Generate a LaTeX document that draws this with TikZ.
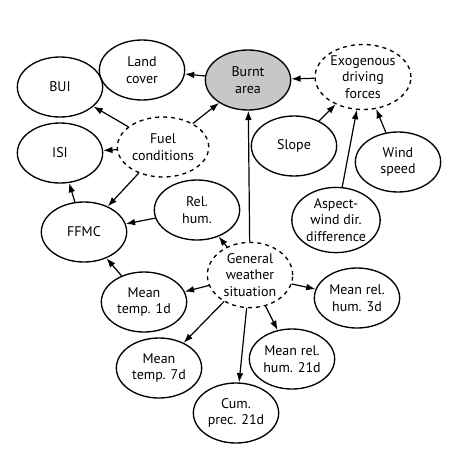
\documentclass[tikz,border=0pt]{standalone}
\usepackage{fontspec}
\setmainfont{PT Sans}
\usepackage{tikz}
\usetikzlibrary{shapes.geometric,arrows.meta}

\tikzset{
  var/.style={ellipse, draw, line width=1pt, align=center, inner sep=1pt,
    minimum width=64pt, minimum height=45pt,
    font=\fontsize{10.5}{12.5}\selectfont},
  latent/.style={var, dashed},
  target/.style={var, fill=black!22},
  link/.style={-{Latex[length=7pt,width=5pt]}, line width=0.9pt}
}

\begin{document}
\begin{tikzpicture}[x=0.75pt,y=-0.75pt]

        \useasboundingbox (0,0) rectangle (470,450);

        \node[target] (burnt) at (248,80)  {Burnt\\area};
        \node[var]    (land)  at (142,70)  {Land\\cover};
        \node[var]    (bui)   at (60,87)   {BUI};
        \node[var]    (isi)   at (60,153)  {ISI};
        \node[var]    (ffmc)  at (84,232)  {FFMC};
        \node[var]    (relh)  at (197,210) {Rel.\\hum.};
        \node[latent] (fuel)  at (163,147) {Fuel\\conditions};
        \node[latent] (exo)   at (363,77)  {Exogenous\\driving\\forces};
        \node[var]    (slope) at (294,146) {Slope};
        \node[var]    (wind)  at (398,162) {Wind\\speed};
        \node[var]    (asp)   at (336,220) {Aspect-\\wind dir.\\difference};
        \node[latent] (gen)   at (250,275) {General\\weather\\situation};
        \node[var]    (mt1)   at (144,302) {Mean\\temp. 1d};
        \node[var]    (mrh3)  at (357,298) {Mean rel.\\hum. 3d};
        \node[var]    (mt7)   at (159,368) {Mean\\temp. 7d};
        \node[var]    (mrh21) at (292,359) {Mean rel.\\hum. 21d};
        \node[var]    (prec)  at (236,413) {Cum.\\prec. 21d};

        \begin{scope}[every path/.style={link}]
          % fire and fuel
          \draw (burnt) -- (land);
          \draw (exo)   -- (burnt);
          \draw (fuel)  -- (burnt);
          \draw (fuel)  -- (bui);
          \draw (fuel)  -- (isi);
          \draw (fuel)  -- (ffmc);
          \draw (ffmc)  -- (isi);
          \draw (relh)  -- (ffmc);
          \draw (mt1)   -- (ffmc);
          % terrain and wind
          \draw (slope) -- (exo);
          \draw (asp)   -- (exo);
          \draw (wind)  -- (exo);
          % weather
          \draw (gen)   -- (burnt);
          \draw (gen)   -- (relh);
          \draw (gen)   -- (mt1);
          \draw (gen)   -- (mt7);
          \draw (gen)   -- (prec);
          \draw (gen)   -- (mrh21);
          \draw (gen)   -- (mrh3);
        \end{scope}

\end{tikzpicture}
\end{document}
